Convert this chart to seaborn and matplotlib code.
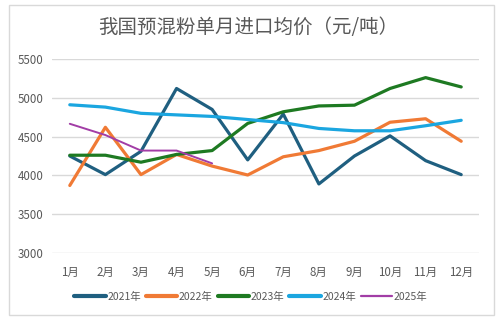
import matplotlib
matplotlib.use("Agg")
import matplotlib.pyplot as plt
import seaborn as sns
import pandas as pd
from matplotlib.patches import Rectangle

months = ["1月", "2月", "3月", "4月", "5月", "6月", "7月", "8月", "9月", "10月", "11月", "12月"]
y2021 = [4250, 4010, 4310, 5120, 4850, 4200, 4790, 3890, 4250, 4510, 4190, 4010]
y2022 = [3870, 4620, 4010, 4270, 4120, 4005, 4240, 4320, 4440, 4685, 4730, 4440]
y2023 = [4260, 4260, 4170, 4270, 4320, 4670, 4820, 4895, 4905, 5120, 5260, 5140]
y2024 = [4910, 4880, 4800, 4780, 4760, 4720, 4680, 4605, 4575, 4575, 4640, 4710]
y2025 = [4665, 4520, 4320, 4320, 4155]
series_names = ["2021年", "2022年", "2023年", "2024年", "2025年"]
colors = ["#1F5F80", "#F07A35", "#1E7A22", "#1BA6E0", "#A23DA6"]
widths = [2.3, 2.3, 2.3, 2.3, 1.4]
yticks = [3000, 3500, 4000, 4500, 5000, 5500]

rows = []
for name, vals in zip(series_names, [y2021, y2022, y2023, y2024, y2025]):
    for m, v in zip(months, vals):
        rows.append({"月份": m, "价格": v, "年份": name})
df = pd.DataFrame(rows)
df["x"] = df["月份"].map({m: i for i, m in enumerate(months)})

sns.set_theme(style="white")
plt.rcParams["font.family"] = ["Noto Sans CJK SC", "DejaVu Sans"]

fig = plt.figure(figsize=(5.02, 3.21), dpi=100)
ax = fig.add_axes([52 / 502, 1 - 253 / 321, (479 - 52) / 502, (253 - 59) / 321])

sns.lineplot(data=df, x="x", y="价格", hue="年份", palette=colors, hue_order=series_names,
             linewidth=2.3, ax=ax, legend=True)
for line, w in zip(ax.get_lines(), widths):
    line.set_linewidth(w)

ax.set_xlim(-0.5, 11.5)
ax.set_ylim(3000, 5500)
ax.set_xticks(range(12))
ax.set_xticklabels(months)
ax.set_yticks(yticks)
ax.set_xlabel("")
ax.set_ylabel("")
ax.grid(axis="y", color="#D9D9D9", linewidth=1)
ax.set_axisbelow(True)
for s in ax.spines.values():
    s.set_visible(False)
ax.tick_params(axis="both", length=0, labelsize=8.3, colors="#595959")
ax.tick_params(axis="x", pad=9)
ax.tick_params(axis="y", pad=6)

handles, labels = ax.get_legend_handles_labels()
leg = ax.legend(handles, labels, loc="center", bbox_to_anchor=(251 / 502, (321 - 297) / 321),
                bbox_transform=fig.transFigure, ncol=5, frameon=False, fontsize=7.5,
                handlelength=3.0, handletextpad=0.15, columnspacing=0.5, labelcolor="#595959")
for line, w in zip(leg.get_lines(), [3, 3, 3, 3, 1.6]):
    line.set_linewidth(w)

fig.text(248 / 502, 1 - 27 / 321, "我国预混粉单月进口均价（元/吨）", ha="center", va="center",
         fontsize=14, color="#595959")

fig.patches.append(Rectangle((9 / 502, 1 - 315 / 321), (494 - 9) / 502, (315 - 5) / 321,
                             transform=fig.transFigure, fill=False, edgecolor="#D9D9D9",
                             linewidth=1))

fig.savefig("out.png", dpi=100, facecolor="white")
